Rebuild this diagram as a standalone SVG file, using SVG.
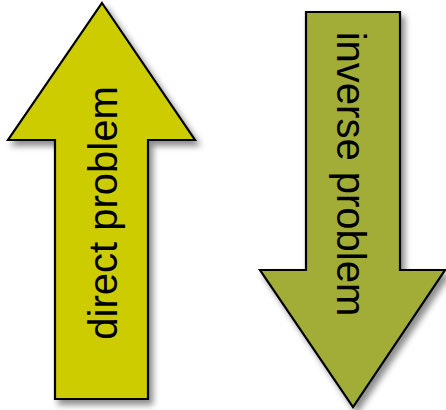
<svg xmlns="http://www.w3.org/2000/svg" width="446" height="410" viewBox="0 0 446 410">
<defs>
<filter id="sh" x="-20%" y="-20%" width="140%" height="140%">
<feDropShadow dx="4" dy="5" stdDeviation="3" flood-color="#000" flood-opacity="0.45"/>
</filter>
<style>
.arr{stroke:#000;stroke-width:2.2;stroke-linejoin:miter;filter:url(#sh)}
.lbl{font-family:"Liberation Sans",Arial,sans-serif;font-size:40px;fill:#000}
</style>
</defs>
<g id="direct">
<polygon class="arr" fill="#CCCC00" points="102,3 195,140 148,140 148,399 55,399 55,140 8,140"/>
<text class="lbl" transform="translate(117,213) rotate(-90)" text-anchor="middle">direct problem</text>
</g>
<g id="inverse">
<polygon class="arr" fill="#A2AD38" points="306,12 400,12 400,270 445,270 353,407 260,270 306,270"/>
<text class="lbl" transform="translate(337,174) rotate(90)" text-anchor="middle">inverse problem</text>
</g>
<g id="connectors"/>
</svg>
